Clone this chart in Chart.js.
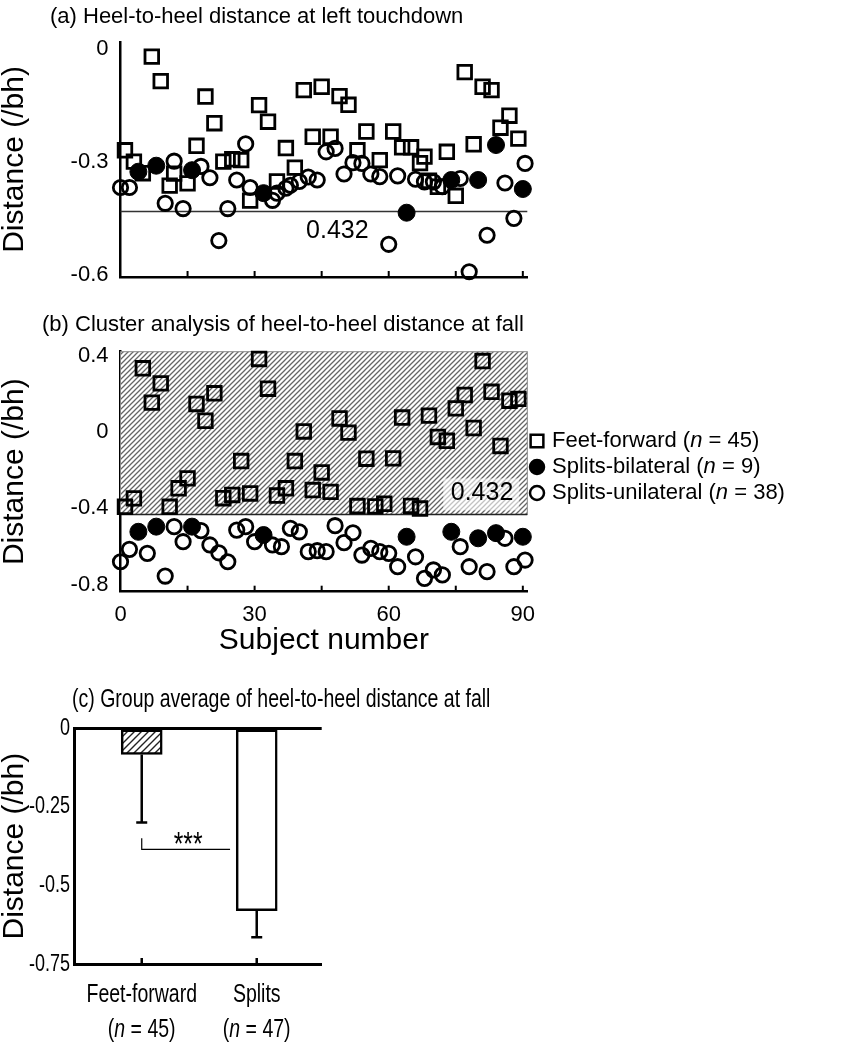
<!DOCTYPE html>
<html>
<head>
<meta charset="utf-8">
<script src="https://cdn.jsdelivr.net/npm/chart.js@4.4.0/dist/chart.umd.min.js"></script>
<style>
    body { margin: 0; background: #fff; width: 859px; height: 1050px; position: relative; overflow: hidden; }
    canvas { position: absolute; left: 0; }
</style>
</head>
<body>
<canvas id="chartA" width="859" height="300" style="top:0"></canvas>
<canvas id="chartB" width="859" height="370" style="top:300px"></canvas>
<canvas id="chartC" width="859" height="380" style="top:670px"></canvas>
<script>
// (a) heel-to-heel distance at left touchdown
const ffSubjA = [1, 3, 5, 7, 9, 11, 12, 15, 17, 19, 21, 23, 25, 27, 29, 31, 33, 35, 37, 39, 41, 43, 45, 47, 49, 51, 53, 55, 58, 61, 63, 65, 67, 68, 69, 71, 73, 75, 77, 79, 81, 83, 85, 87, 89];
const ffDistA = [-0.269, -0.299, -0.330, -0.020, -0.085, -0.363, -0.331, -0.357, -0.257, -0.126, -0.197, -0.299, -0.293, -0.295, -0.403, -0.149, -0.193, -0.352, -0.263, -0.315, -0.109, -0.233, -0.100, -0.233, -0.125, -0.148, -0.269, -0.219, -0.295, -0.219, -0.261, -0.261, -0.303, -0.286, -0.350, -0.366, -0.273, -0.390, -0.061, -0.253, -0.100, -0.109, -0.209, -0.177, -0.238];
const biSubjA = [4, 8, 16, 32, 64, 74, 80, 84, 90];
const biDistA = [-0.326, -0.310, -0.322, -0.383, -0.435, -0.348, -0.348, -0.255, -0.372];
const uniSubjA = [0, 2, 10, 12, 14, 18, 20, 22, 24, 26, 28, 29, 34, 35, 37, 38, 40, 42, 44, 46, 48, 50, 52, 54, 56, 58, 60, 62, 66, 68, 70, 72, 76, 78, 82, 86, 88, 90.5];
const uniDistA = [-0.368, -0.368, -0.410, -0.298, -0.424, -0.312, -0.342, -0.509, -0.424, -0.348, -0.252, -0.368, -0.402, -0.383, -0.370, -0.362, -0.352, -0.340, -0.348, -0.273, -0.264, -0.332, -0.302, -0.304, -0.332, -0.339, -0.519, -0.337, -0.346, -0.353, -0.353, -0.366, -0.344, -0.592, -0.495, -0.356, -0.450, -0.304];
const yTicksA = [0, -0.3, -0.6];

// (b) heel-to-heel distance at fall
const ffSubjB = [1, 3, 5, 7, 9, 11, 13, 15, 17, 19, 21, 23, 25, 27, 29, 31, 33, 35, 37, 39, 41, 43, 45, 47, 49, 51, 53, 55, 57, 59, 61, 63, 65, 67, 69, 71, 73, 75, 77, 79, 81, 83, 85, 87, 89];
const ffDistB = [-0.392, -0.348, 0.334, 0.154, 0.255, -0.392, -0.295, -0.243, 0.147, 0.059, 0.203, -0.347, -0.330, -0.152, -0.322, 0.383, 0.227, -0.333, -0.295, -0.152, 0.003, -0.304, -0.212, -0.314, 0.071, -0.003, -0.388, -0.140, -0.390, -0.376, -0.138, 0.076, -0.387, -0.401, 0.086, -0.026, -0.046, 0.124, 0.194, 0.021, 0.372, 0.211, -0.073, 0.164, 0.174];
const biSubjB = [4, 8, 16, 32, 64, 74, 80, 84, 90];
const biDistB = [-0.523, -0.496, -0.496, -0.540, -0.549, -0.523, -0.557, -0.530, -0.549];
const uniSubjB = [0, 2, 6, 10, 12, 14, 18, 20, 22, 24, 26, 28, 30, 34, 36, 38, 40, 42, 44, 46, 48, 50, 52, 54, 56, 58, 60, 62, 66, 68, 70, 72, 76, 78, 82, 86, 88, 90.5];
const uniDistB = [-0.680, -0.615, -0.636, -0.755, -0.496, -0.575, -0.517, -0.592, -0.633, -0.680, -0.514, -0.496, -0.575, -0.592, -0.601, -0.505, -0.523, -0.627, -0.622, -0.627, -0.491, -0.580, -0.528, -0.645, -0.610, -0.627, -0.636, -0.706, -0.654, -0.767, -0.723, -0.749, -0.601, -0.706, -0.732, -0.557, -0.706, -0.671];
const yTicksB = [0.4, 0, -0.4, -0.8];

const subjTicks = [0, 30, 60, 90];
const minorTicks = [15, 30, 45, 60, 75, 90];
const threshold = -0.432;
const legendLabels = ['Feet-forward', 'Splits-bilateral', 'Splits-unilateral'];
const legendCounts = [45, 9, 38];

// (c) group average
const groupLabels = ['Feet-forward', 'Splits'];
const groupCounts = [45, 47];
const groupMeans = [-0.083, -0.580];
const groupSD = [0.217, 0.085];
const yTicksC = [0, -0.25, -0.5, -0.75];

const FONT = '"Liberation Sans", Arial, sans-serif';
const SQUEEZE = 0.75;   // panel (c) uses a condensed face

Chart.defaults.font.family = FONT;
Chart.defaults.color = '#000';
Chart.defaults.animation = false;
Chart.defaults.plugins.legend.display = false;
Chart.defaults.plugins.tooltip.enabled = false;

const toPts = (xs, ys) => xs.map((x, i) => ({ x: x, y: ys[i] }));
const setTicks = list => scale => { scale.ticks = list.map(v => ({ value: v })); };

// 斜線填充
function makeHatch(gap, color, lw) {
    const c = document.createElement('canvas');
    c.width = gap; c.height = gap;
    const g = c.getContext('2d');
    g.fillStyle = '#fff';
    g.fillRect(0, 0, gap, gap);
    g.strokeStyle = color;
    g.lineWidth = lw;
    g.beginPath();
    g.moveTo(0, gap); g.lineTo(gap, 0);
    g.moveTo(-gap / 2, gap / 2); g.lineTo(gap / 2, -gap / 2);
    g.moveTo(gap / 2, gap * 1.5); g.lineTo(gap * 1.5, gap / 2);
    g.stroke();
    return g.createPattern(c, 'repeat');
}

// text with italic parts, parts = [[text, italic], ...]; sx squeezes horizontally
function drawRich(ctx, parts, x, y, size, align, sx) {
    sx = sx || 1;
    const fonts = parts.map(p => (p[1] ? 'italic ' : '') + size + 'px ' + FONT);
    let total = 0;
    const widths = parts.map((p, i) => {
        ctx.font = fonts[i];
        const w = ctx.measureText(p[0]).width;
        total += w;
        return w;
    });
    ctx.save();
    ctx.translate(x, y);
    ctx.scale(sx, 1);
    let cx = align === 'center' ? -total / 2 : (align === 'right' ? -total : 0);
    ctx.textAlign = 'left';
    ctx.textBaseline = 'middle';
    parts.forEach((p, i) => {
        ctx.font = fonts[i];
        ctx.fillText(p[0], cx, 0);
        cx += widths[i];
    });
    ctx.restore();
}

function scatterSets(ffS, ffD, biS, biD, uniS, uniD) {
    return [
        { label: legendLabels[1], data: toPts(biS, biD), pointStyle: 'circle', pointRadius: 8.5, backgroundColor: '#000', borderColor: '#000', borderWidth: 1 },
        { label: legendLabels[2], data: toPts(uniS, uniD), pointStyle: 'circle', pointRadius: 7.2, backgroundColor: 'rgba(0,0,0,0)', borderColor: '#000', borderWidth: 2.8 },
        { label: legendLabels[0], data: toPts(ffS, ffD), pointStyle: 'rect', pointRadius: 9.6, backgroundColor: 'rgba(0,0,0,0)', borderColor: '#000', borderWidth: 2.8 }
    ].map(d => Object.assign(d, { clip: false, pointHoverRadius: d.pointRadius }));
}

function panelTitle(text, x, y) {
    return {
        id: 'panelTitle',
        afterDraw(chart) {
            const ctx = chart.ctx;
            ctx.save();
            ctx.fillStyle = '#000';
            ctx.font = '22px ' + FONT;
            ctx.textAlign = 'left';
            ctx.textBaseline = 'middle';
            ctx.fillText(text, x, y);
            ctx.restore();
        }
    };
}

const innerTicks = {
    id: 'innerTicks',
    afterDraw(chart) {
        const xs = chart.scales.x, ctx = chart.ctx, b = chart.chartArea.bottom;
        ctx.save();
        ctx.strokeStyle = '#000';
        ctx.lineWidth = 2;
        minorTicks.forEach(v => {
            const px = xs.getPixelForValue(v);
            ctx.beginPath();
            ctx.moveTo(px, b);
            ctx.lineTo(px, b - 6);
            ctx.stroke();
        });
        ctx.restore();
    }
};

function scatterScales(xMax, yMin, yMax, yTicks, showX, xHeight) {
    return {
        x: {
            type: 'linear', min: 0, max: xMax,
            afterBuildTicks: setTicks(subjTicks),
            ticks: { display: showX, font: { size: 22 }, padding: 2, maxRotation: 0 },
            grid: { display: false },
            border: { color: '#000', width: 2.5 },
            title: { display: showX, text: 'Subject number', font: { size: 30, lineHeight: 1 }, padding: { top: 0, bottom: 14 } },
            afterFit: s => { s.height = xHeight; }
        },
        y: {
            min: yMin, max: yMax,
            afterBuildTicks: setTicks(yTicks),
            ticks: { font: { size: 22 }, padding: 4, callback: v => String(v) },
            grid: { display: false },
            border: { color: '#000', width: 2.5 },
            title: { display: true, text: 'Distance (/bh)', font: { size: 30, lineHeight: 1 }, padding: 0 },
            afterFit: s => { s.width = 120.5; }
        }
    };
}

// 圖 (a)
new Chart(document.getElementById('chartA'), {
    type: 'scatter',
    data: { datasets: scatterSets(ffSubjA, ffDistA, biSubjA, biDistA, uniSubjA, uniDistA) },
    options: {
        responsive: false,
        layout: { padding: { top: 42, right: 331.7, bottom: 0, left: 0 } },
        scales: scatterScales(91, -0.606, 0.019, yTicksA, false, 23)
    },
    plugins: [{
        id: 'cutLine',
        beforeDatasetsDraw(chart) {
            const { x: xs, y: ys } = chart.scales;
            const ctx = chart.ctx;
            const py = ys.getPixelForValue(threshold);
            ctx.save();
            ctx.strokeStyle = '#333';
            ctx.lineWidth = 1.5;
            ctx.beginPath();
            ctx.moveTo(xs.left, py);
            ctx.lineTo(xs.right, py);
            ctx.stroke();
            ctx.fillStyle = '#000';
            ctx.font = '25px ' + FONT;
            ctx.textAlign = 'center';
            ctx.textBaseline = 'middle';
            ctx.fillText(String(-threshold), xs.getPixelForValue(48.5), py + 20);
            ctx.restore();
        }
    }, innerTicks, panelTitle('(a) Heel-to-heel distance at left touchdown', 50, 17)]
});

// 圖 (b)
const hatchB = makeHatch(5, '#666', 1.3);
new Chart(document.getElementById('chartB'), {
    type: 'scatter',
    data: { datasets: scatterSets(ffSubjB, ffDistB, biSubjB, biDistB, uniSubjB, uniDistB) },
    options: {
        responsive: false,
        layout: { padding: { top: 51.7, right: 331.7, bottom: 0, left: 0 } },
        scales: scatterScales(91, -0.837, 0.421, yTicksB, true, 78.3)
    },
    plugins: [{
        id: 'cluster',
        beforeDatasetsDraw(chart) {
            const { x: xs, y: ys } = chart.scales;
            const ctx = chart.ctx;
            const top = chart.chartArea.top;
            const py = ys.getPixelForValue(threshold);
            ctx.save();
            ctx.fillStyle = hatchB;
            ctx.fillRect(xs.left, top, xs.right - xs.left, py - top);
            ctx.strokeStyle = '#888';
            ctx.lineWidth = 1;
            ctx.strokeRect(xs.left, top, xs.right - xs.left, py - top);
            ctx.strokeStyle = '#222';
            ctx.lineWidth = 1.5;
            ctx.beginPath();
            ctx.moveTo(xs.left, py);
            ctx.lineTo(xs.right, py);
            ctx.stroke();
            // 0.432 label
            ctx.fillStyle = 'rgba(255,255,255,0.6)';
            ctx.fillRect(xs.right - 84, py - 36, 76, 32);
            ctx.fillStyle = '#000';
            ctx.font = '25px ' + FONT;
            ctx.textAlign = 'right';
            ctx.textBaseline = 'middle';
            ctx.fillText(String(-threshold), xs.right - 14, py - 21);
            ctx.restore();
        },
        afterDraw(chart) {
            const ctx = chart.ctx;
            const styles = ['rect', 'circle', 'circle'];
            const fills = ['rgba(0,0,0,0)', '#000', 'rgba(0,0,0,0)'];
            ctx.save();
            legendLabels.forEach((lab, i) => {
                const y = 141 + i * 26;
                ctx.fillStyle = fills[i];
                ctx.strokeStyle = '#000';
                ctx.lineWidth = 2.5;
                Chart.helpers.drawPoint(ctx, { pointStyle: styles[i], radius: i === 0 ? 9 : 7, borderWidth: 2.5 }, 537, y);
                ctx.fillStyle = '#000';
                drawRich(ctx, [[lab + ' (', false], ['n', true], [' = ' + legendCounts[i] + ')', false]], 552, y, 22, 'left');
            });
            ctx.restore();
        }
    }, innerTicks, panelTitle('(b) Cluster analysis of heel-to-heel distance at fall', 42, 25)]
});

// 圖 (c)
const hatchC = makeHatch(7, '#222', 1.4);
new Chart(document.getElementById('chartC'), {
    type: 'bar',
    data: {
        datasets: [{
            data: groupMeans.map((m, i) => ({ x: i, y: m })),
            backgroundColor: [hatchC, '#fff'],
            borderColor: '#000',
            borderWidth: 2.5,
            borderSkipped: false,
            barThickness: 41
        }]
    },
    options: {
        responsive: false,
        layout: { padding: { top: 58.3, right: 537.3, bottom: 0, left: 0 } },
        scales: {
            x: {
                type: 'linear', min: -0.589, max: 1.565, offset: false,
                ticks: { display: false },
                grid: { display: false },
                border: { color: '#000', width: 3 },
                afterFit: s => { s.height = 86; }
            },
            y: {
                min: -0.75, max: 0,
                afterBuildTicks: setTicks(yTicksC),
                ticks: { display: false },
                grid: { color: c => (c.tick && c.tick.value === 0 ? '#000' : 'rgba(0,0,0,0)'), lineWidth: 3, drawTicks: false },
                border: { color: '#000', width: 3 },
                title: { display: true, text: 'Distance (/bh)', font: { size: 30, lineHeight: 1 }, padding: 0 },
                afterFit: s => { s.width = 74; }
            }
        }
    },
    plugins: [{
        id: 'groupExtras',
        afterDatasetsDraw(chart) {
            const { x: xs, y: ys } = chart.scales;
            const ctx = chart.ctx;
            const b = chart.chartArea.bottom;
            ctx.save();
            ctx.strokeStyle = '#000';
            ctx.fillStyle = '#000';
            // error bars
            ctx.lineWidth = 2.5;
            groupMeans.forEach((m, i) => {
                const px = xs.getPixelForValue(i);
                const y0 = ys.getPixelForValue(m);
                const y1 = ys.getPixelForValue(m - groupSD[i]);
                ctx.beginPath();
                ctx.moveTo(px, y0);
                ctx.lineTo(px, y1);
                ctx.moveTo(px - 5.5, y1);
                ctx.lineTo(px + 5.5, y1);
                ctx.moveTo(px, b);
                ctx.lineTo(px, b - 6);
                ctx.stroke();
            });
            // y tick labels (condensed)
            yTicksC.forEach(v => {
                drawRich(ctx, [[String(v), false]], ys.left + 70, ys.getPixelForValue(v), 24, 'right', SQUEEZE);
            });
            // significance bracket
            const bx0 = xs.getPixelForValue(0);
            const bx1 = xs.getPixelForValue(0.768);
            const by0 = ys.getPixelForValue(-0.35);
            const by1 = ys.getPixelForValue(-0.385);
            ctx.lineWidth = 1.2;
            ctx.beginPath();
            ctx.moveTo(bx0, by0);
            ctx.lineTo(bx0, by1);
            ctx.lineTo(bx1, by1);
            ctx.stroke();
            drawRich(ctx, [['***', false]], xs.getPixelForValue(0.403), by0 + 8, 33, 'center', SQUEEZE);
            // category labels
            groupLabels.forEach((lab, i) => {
                const px = xs.getPixelForValue(i);
                drawRich(ctx, [[lab, false]], px, 325, 26, 'center', SQUEEZE);
                drawRich(ctx, [['(', false], ['n', true], [' = ' + groupCounts[i] + ')', false]], px, 360, 26, 'center', SQUEEZE);
            });
            // title
            drawRich(ctx, [['(c) Group average of heel-to-heel distance at fall', false]], 72, 30, 26, 'left', SQUEEZE);
            ctx.restore();
        }
    }]
});
</script>
</body>
</html>
